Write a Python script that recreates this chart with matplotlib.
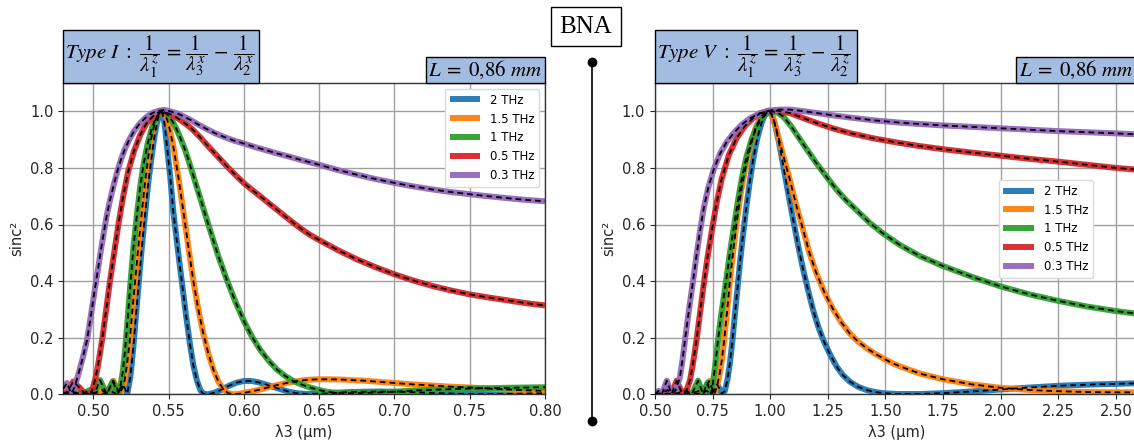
import numpy as np
import matplotlib
matplotlib.use("Agg")
import matplotlib.pyplot as plt
from matplotlib.patches import Rectangle
from matplotlib.lines import Line2D

# ---------------- data ----------------
labels = ["2 THz", "1.5 THz", "1 THz", "0.5 THz", "0.3 THz"]
colors = ["#1f77b4", "#ff7f0e", "#2ca02c", "#d62728", "#9467bd"]

# ----- Type I panel -----
blue_I_x = [0.480, 0.505, 0.512, 0.5155, 0.5195, 0.5225, 0.5245, 0.5255, 0.5266, 0.528, 0.5299, 0.532,
            0.5343, 0.5365, 0.5388, 0.5405, 0.5421, 0.5435, 0.5448, 0.546, 0.5473, 0.5487, 0.551, 0.5531,
            0.5559, 0.5587, 0.5615, 0.5642, 0.5665, 0.5687, 0.571, 0.573, 0.576, 0.580, 0.585, 0.590,
            0.595, 0.600, 0.605, 0.610, 0.615, 0.620, 0.625, 0.630, 0.635, 0.642, 0.655, 0.67, 0.69,
            0.71, 0.73, 0.75, 0.78, 0.80]
blue_I_y = [0.0, 0.0, 0.01, 0.0, 0.035, 0.002, 0.06, 0.11, 0.17, 0.26, 0.38, 0.51,
            0.635, 0.75, 0.845, 0.91, 0.955, 0.985, 0.998, 0.99, 0.955, 0.885, 0.77, 0.645,
            0.52, 0.40, 0.28, 0.175, 0.10, 0.05, 0.015, 0.002, 0.0, 0.005, 0.016, 0.03,
            0.041, 0.047, 0.047, 0.042, 0.034, 0.025, 0.017, 0.009, 0.004, 0.001, 0.003, 0.008, 0.01,
            0.008, 0.004, 0.001, 0.002, 0.004]

orange_I_x = [0.480, 0.500, 0.5055, 0.509, 0.5132, 0.5175, 0.5205, 0.5222, 0.524, 0.5258, 0.5277, 0.530,
              0.5321, 0.5343, 0.5365, 0.5388, 0.541, 0.543, 0.545, 0.547, 0.549, 0.551, 0.5531, 0.5565,
              0.5598, 0.5631, 0.5664, 0.5697, 0.573, 0.5763, 0.5797, 0.583, 0.5863, 0.5895, 0.593, 0.597,
              0.600, 0.605, 0.610, 0.615, 0.620, 0.625, 0.630, 0.635, 0.640, 0.645, 0.650, 0.6575, 0.665,
              0.6725, 0.68, 0.69, 0.70, 0.7125, 0.725, 0.7375, 0.75, 0.7625, 0.775, 0.7875, 0.80]
orange_I_y = [0.0, 0.003, 0.016, 0.001, 0.048, 0.002, 0.04, 0.10, 0.18, 0.29, 0.40, 0.53,
              0.64, 0.75, 0.84, 0.915, 0.965, 0.99, 1.0, 0.993, 0.97, 0.93, 0.876, 0.765,
              0.645, 0.52, 0.40, 0.30, 0.215, 0.145, 0.087, 0.045, 0.018, 0.004, 0.0, 0.002,
              0.005, 0.01, 0.016, 0.023, 0.03, 0.036, 0.042, 0.046, 0.05, 0.052, 0.053, 0.053, 0.052,
              0.05, 0.048, 0.044, 0.04, 0.035, 0.031, 0.027, 0.024, 0.02, 0.017, 0.014, 0.012]

green_I_x = [0.480, 0.487, 0.492, 0.4975, 0.5005, 0.5044, 0.5088, 0.5128, 0.5165, 0.518, 0.5195, 0.5211,
             0.5228, 0.5244, 0.5266, 0.5288, 0.531, 0.5332, 0.536, 0.5388, 0.5415, 0.5445, 0.547, 0.550,
             0.5527, 0.5554, 0.5582, 0.561, 0.5637, 0.5664, 0.572, 0.5775, 0.583, 0.5886, 0.5945, 0.6003,
             0.6055, 0.6107, 0.6162, 0.6218, 0.6273, 0.6328, 0.6385, 0.644, 0.650, 0.655, 0.660, 0.667,
             0.675, 0.6875, 0.70, 0.7125, 0.725, 0.75, 0.775, 0.80]
green_I_y = [0.003, 0.008, 0.0, 0.015, 0.0, 0.05, 0.002, 0.045, 0.005, 0.03, 0.08, 0.16,
             0.27, 0.38, 0.52, 0.63, 0.73, 0.81, 0.885, 0.94, 0.977, 0.998, 0.998, 0.985,
             0.963, 0.935, 0.90, 0.862, 0.818, 0.772, 0.675, 0.58, 0.488, 0.405, 0.325, 0.255,
             0.202, 0.158, 0.12, 0.088, 0.065, 0.047, 0.034, 0.024, 0.015, 0.009, 0.006, 0.004,
             0.004, 0.006, 0.009, 0.013, 0.016, 0.02, 0.023, 0.025]

red_I_x = [0.480, 0.483, 0.4865, 0.4905, 0.4945, 0.4975, 0.499, 0.500, 0.5015, 0.503, 0.5045, 0.506,
           0.5085, 0.511, 0.5138, 0.5166, 0.5198, 0.523, 0.527, 0.531, 0.535, 0.539, 0.542, 0.5445,
           0.5475, 0.551, 0.5545, 0.558, 0.562, 0.566, 0.5715, 0.577, 0.583, 0.589, 0.5945, 0.600,
           0.6055, 0.611, 0.6165, 0.622, 0.6275, 0.633, 0.6385, 0.644, 0.650, 0.6625, 0.675, 0.6875,
           0.700, 0.7125, 0.725, 0.7375, 0.750, 0.7625, 0.775, 0.7875, 0.800]
red_I_y = [0.0, 0.01, 0.045, 0.025, 0.002, 0.0, 0.01, 0.03, 0.06, 0.10, 0.15, 0.20,
           0.30, 0.40, 0.50, 0.60, 0.70, 0.785, 0.86, 0.915, 0.955, 0.98, 0.993, 1.0,
           0.998, 0.99, 0.981, 0.968, 0.953, 0.935, 0.905, 0.872, 0.838, 0.804, 0.774, 0.746,
           0.722, 0.699, 0.675, 0.652, 0.628, 0.605, 0.583, 0.563, 0.545, 0.509, 0.477, 0.449,
           0.424, 0.402, 0.383, 0.367, 0.353, 0.342, 0.332, 0.322, 0.314]

purple_I_x = [0.480, 0.4825, 0.4852, 0.4875, 0.4905, 0.4930, 0.4957, 0.4975, 0.4995, 0.5012, 0.503, 0.505,
              0.507, 0.509, 0.511, 0.5135, 0.516, 0.5185, 0.521, 0.524, 0.527, 0.5305, 0.534, 0.537,
              0.540, 0.5435, 0.547, 0.551, 0.556, 0.560, 0.565, 0.570, 0.575, 0.581, 0.587, 0.593,
              0.600, 0.607, 0.615, 0.622, 0.630, 0.640, 0.650, 0.662, 0.675, 0.687, 0.700, 0.712,
              0.725, 0.737, 0.750, 0.762, 0.775, 0.787, 0.800]
purple_I_y = [0.02, 0.04, 0.003, 0.025, 0.08, 0.13, 0.19, 0.25, 0.32, 0.38, 0.44, 0.51,
              0.575, 0.635, 0.685, 0.74, 0.79, 0.832, 0.868, 0.902, 0.93, 0.955, 0.974, 0.987,
              0.996, 1.002, 1.005, 1.0, 0.992, 0.982, 0.968, 0.952, 0.938, 0.922, 0.909, 0.897,
              0.886, 0.874, 0.862, 0.851, 0.840, 0.825, 0.811, 0.793, 0.776, 0.761, 0.747, 0.735,
              0.724, 0.715, 0.707, 0.700, 0.693, 0.687, 0.682]

# ----- Type V panel -----
blue_V_x = [0.50, 0.70, 0.725, 0.745, 0.77, 0.79, 0.803, 0.814, 0.825, 0.836, 0.847, 0.858, 0.868, 0.882,
            0.897, 0.911, 0.926, 0.944, 0.962, 0.977, 0.991, 1.005, 1.02, 1.038, 1.056, 1.078, 1.10,
            1.12, 1.143, 1.165, 1.186, 1.208, 1.23, 1.26, 1.288, 1.315, 1.345, 1.38, 1.418, 1.455,
            1.49, 1.55, 1.65, 1.75, 1.875, 2.0, 2.125, 2.25, 2.375, 2.5, 2.6]
blue_V_y = [0.0, 0.003, 0.012, 0.001, 0.035, 0.002, 0.012, 0.05, 0.11, 0.19, 0.285, 0.375, 0.46, 0.565,
            0.665, 0.75, 0.83, 0.905, 0.958, 0.988, 1.0, 0.99, 0.955, 0.89, 0.81, 0.71, 0.615,
            0.53, 0.44, 0.365, 0.298, 0.24, 0.192, 0.14, 0.098, 0.068, 0.045, 0.027, 0.015, 0.008,
            0.004, 0.001, 0.001, 0.004, 0.01, 0.017, 0.024, 0.03, 0.034, 0.037, 0.039]

orange_V_x = [0.50, 0.66, 0.69, 0.71, 0.735, 0.757, 0.768, 0.78, 0.79, 0.80, 0.8125, 0.825, 0.84, 0.854,
              0.872, 0.89, 0.912, 0.934, 0.955, 0.977, 0.995, 1.01, 1.027, 1.056, 1.085, 1.114, 1.143,
              1.17, 1.20, 1.235, 1.273, 1.31, 1.345, 1.38, 1.418, 1.455, 1.49, 1.525, 1.562, 1.65,
              1.75, 1.875, 2.0, 2.125, 2.25, 2.375, 2.5, 2.6]
orange_V_y = [0.0, 0.003, 0.012, 0.002, 0.047, 0.001, 0.025, 0.07, 0.12, 0.19, 0.29, 0.40, 0.51, 0.605,
              0.71, 0.79, 0.87, 0.935, 0.975, 0.997, 1.003, 0.985, 0.935, 0.845, 0.758, 0.665, 0.58,
              0.50, 0.428, 0.36, 0.30, 0.252, 0.215, 0.187, 0.163, 0.143, 0.127, 0.112, 0.099, 0.073,
              0.053, 0.035, 0.023, 0.015, 0.011, 0.008, 0.007, 0.007]

green_V_x = [0.50, 0.60, 0.635, 0.66, 0.687, 0.708, 0.727, 0.742, 0.748, 0.753, 0.761, 0.769, 0.782, 0.796,
             0.81, 0.825, 0.84, 0.858, 0.876, 0.897, 0.919, 0.945, 0.97, 1.0, 1.028, 1.056, 1.09, 1.128,
             1.165, 1.20, 1.245, 1.288, 1.33, 1.374, 1.43, 1.49, 1.562, 1.65, 1.75, 1.875, 2.0, 2.125,
             2.25, 2.375, 2.5, 2.6]
green_V_y = [0.0, 0.004, 0.012, 0.001, 0.048, 0.002, 0.04, 0.003, 0.02, 0.05, 0.10, 0.16, 0.25, 0.33,
             0.41, 0.50, 0.58, 0.675, 0.76, 0.84, 0.90, 0.95, 0.982, 1.0, 0.997, 0.982, 0.948, 0.902,
             0.858, 0.817, 0.768, 0.723, 0.685, 0.651, 0.607, 0.568, 0.528, 0.488, 0.453, 0.415, 0.381, 0.353,
             0.33, 0.31, 0.294, 0.284]

red_V_x = [0.50, 0.53, 0.555, 0.572, 0.594, 0.618, 0.635, 0.652, 0.666, 0.68, 0.695, 0.71, 0.728, 0.746,
           0.767, 0.789, 0.82, 0.854, 0.89, 0.926, 0.955, 0.984, 1.03, 1.085, 1.14, 1.2, 1.27, 1.345,
           1.45, 1.562, 1.65, 1.75, 1.875, 2.0, 2.125, 2.25, 2.375, 2.5, 2.6]
red_V_y = [0.0, 0.005, 0.015, 0.002, 0.048, 0.003, 0.01, 0.05, 0.115, 0.19, 0.285, 0.38, 0.485, 0.575,
           0.675, 0.76, 0.845, 0.905, 0.948, 0.976, 0.992, 1.0, 1.002, 0.994, 0.977, 0.959, 0.94, 0.923,
           0.904, 0.888, 0.877, 0.866, 0.854, 0.843, 0.832, 0.822, 0.811, 0.80, 0.793]

purple_V_x = [0.50, 0.515, 0.53, 0.551, 0.572, 0.590, 0.608, 0.619, 0.630, 0.637, 0.651, 0.666, 0.680,
              0.695, 0.712, 0.731, 0.755, 0.782, 0.81, 0.84, 0.875, 0.912, 0.955, 1.0, 1.04, 1.085, 1.14,
              1.2, 1.27, 1.345, 1.45, 1.562, 1.65, 1.75, 1.875, 2.0, 2.125, 2.25, 2.375, 2.5, 2.6]
purple_V_y = [0.0, 0.012, 0.0, 0.048, 0.002, 0.015, 0.06, 0.12, 0.19, 0.235, 0.32, 0.405, 0.49,
              0.575, 0.66, 0.73, 0.795, 0.85, 0.89, 0.922, 0.952, 0.975, 0.993, 1.003, 1.006, 1.006, 1.001,
              0.994, 0.986, 0.978, 0.968, 0.96, 0.955, 0.95, 0.945, 0.94, 0.935, 0.93, 0.926, 0.922, 0.918]

xticks_I = [0.50, 0.55, 0.60, 0.65, 0.70, 0.75, 0.80]
xticks_V = [0.50, 0.75, 1.00, 1.25, 1.50, 1.75, 2.00, 2.25, 2.50]
yticks = [0.0, 0.2, 0.4, 0.6, 0.8, 1.0]

title_I = r"$Type\ I\ :\ \dfrac{1}{\lambda_1^z}\,=\,\dfrac{1}{\lambda_3^x}\,-\,\dfrac{1}{\lambda_2^x}$"
title_V = r"$Type\ V\ :\ \dfrac{1}{\lambda_1^z}\,=\,\dfrac{1}{\lambda_3^z}\,-\,\dfrac{1}{\lambda_2^z}$"
length_txt = r"$L\;=\;0{,}86\ mm$"
crystal = "BNA"

# ---------------- figure ----------------
plt.rcParams["mathtext.fontset"] = "stix"
W, H = 1134, 443
fig = plt.figure(figsize=(W / 100, H / 100), dpi=100)


def fx(px):
    return px / W


def fy(py):
    return 1 - py / H


ax_bot, ax_top = 394.3, 83.0
ax1 = fig.add_axes([fx(63.3), fy(ax_bot), fx(545) - fx(63.3), fy(ax_top) - fy(ax_bot)])
ax2 = fig.add_axes([fx(655), fy(ax_bot), (1139 - 655) / W, fy(ax_top) - fy(ax_bot)])

panel_I = [(blue_I_x, blue_I_y), (orange_I_x, orange_I_y), (green_I_x, green_I_y),
           (red_I_x, red_I_y), (purple_I_x, purple_I_y)]
panel_V = [(blue_V_x, blue_V_y), (orange_V_x, orange_V_y), (green_V_x, green_V_y),
           (red_V_x, red_V_y), (purple_V_x, purple_V_y)]

for ax, data, xt, xl in [(ax1, panel_I, xticks_I, (0.48, 0.80)), (ax2, panel_V, xticks_V, (0.50, 2.60))]:
    for (x, y), lab, c in zip(data, labels, colors):
        ax.plot(x, y, color=c, lw=4.3, label=lab, alpha=0.95,
                solid_joinstyle="round", solid_capstyle="butt", zorder=2)
    for (x, y) in data:
        ax.plot(x, y, color="black", lw=1.3, ls=(0, (3.2, 2.2)), zorder=3)
    ax.set_xlim(*xl)
    ax.set_ylim(0, 1.1)
    ax.set_xticks(xt)
    ax.set_xticklabels([f"{v:.2f}" for v in xt])
    ax.set_yticks(yticks)
    ax.set_yticklabels([f"{v:.1f}" for v in yticks])
    ax.grid(True, color="#a0a0a0", lw=1.0)
    ax.set_axisbelow(True)
    ax.tick_params(labelsize=10.5, colors="#262626", length=3.5)
    ax.set_xlabel("λ3 (µm)", fontsize=10.5, color="#262626")
    ax.set_ylabel("sinc²", fontsize=10.5, color="#262626")
    for s in ax.spines.values():
        s.set_color("#333333")
        s.set_linewidth(1.0)

leg_kw = dict(fontsize=8.5, handlelength=2.6, framealpha=1.0, edgecolor="#d9d9d9", fancybox=True)
ax1.legend(loc="upper right", **leg_kw)
ax2.legend(loc="center right", bbox_to_anchor=(0.917, 0.531), **leg_kw)

# ---------------- annotation boxes ----------------
box_fc = "#a4bce0"


def fig_box(x0, y0, x1, y1, fc):
    fig.add_artist(Rectangle((fx(x0), fy(y1)), fx(x1) - fx(x0), fy(y0) - fy(y1),
                             transform=fig.transFigure, facecolor=fc, edgecolor="black",
                             lw=1.0, zorder=5))


fig_box(63, 30, 259, 82.5, box_fc)
fig.text(fx(65), fy(56.5), title_I, fontsize=15, ha="left", va="center", zorder=6)
fig_box(425.5, 57, 545, 82.5, box_fc)
fig.text(fx(485), fy(70), length_txt, fontsize=15, ha="center", va="center", zorder=6)

fig_box(655, 30, 857, 82.5, box_fc)
fig.text(fx(657), fy(56.5), title_V, fontsize=15, ha="left", va="center", zorder=6)
fig_box(1016, 57, 1140, 82.5, box_fc)
fig.text(fx(1076), fy(70), length_txt, fontsize=15, ha="center", va="center", zorder=6)

fig_box(551, 7, 621, 46, "white")
fig.text(fx(586), fy(27), crystal, fontsize=18, family="Liberation Serif",
         ha="center", va="center", zorder=6)

fig.add_artist(Line2D([fx(592), fx(592)], [fy(62), fy(421)], transform=fig.transFigure,
                      color="black", lw=1.2, marker="o", markersize=6, zorder=6))

fig.savefig("out.png", dpi=100)
